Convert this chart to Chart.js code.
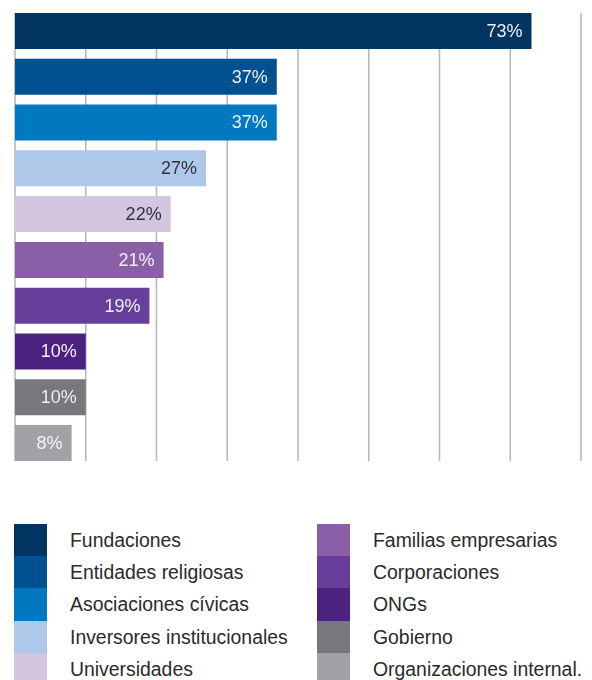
<!DOCTYPE html>
<html>
<head>
<meta charset="utf-8">
<script src="https://cdn.jsdelivr.net/npm/chart.js@4"></script>
<style>
    body { margin: 0; background: #fff; font-family: "Liberation Sans", Arial, sans-serif; }
    #wrap { position: relative; width: 592px; height: 680px; overflow: hidden; }
    #chartBox { position: absolute; left: 0; top: 0; width: 592px; height: 480px; }
    .legend { position: absolute; top: 524px; }
    .legend .row { position: relative; height: 32.2px; }
    .legend .sw { position: absolute; left: 0; top: 0; width: 33px; height: 32.2px; }
    .legend .txt { position: absolute; left: 56px; top: 5px; font-size: 19.4px; color: #2a2a2a; white-space: nowrap; line-height: 22px; }
</style>
</head>
<body>
<div id="wrap">
    <div id="chartBox"><canvas id="chart"></canvas></div>
    <div class="legend" id="legendLeft" style="left:14px"></div>
    <div class="legend" id="legendRight" style="left:317px"></div>
</div>
<script>
const categories = [
    'Fundaciones',
    'Entidades religiosas',
    'Asociaciones cívicas',
    'Inversores institucionales',
    'Universidades',
    'Familias empresarias',
    'Corporaciones',
    'ONGs',
    'Gobierno',
    'Organizaciones internal.'
];
const percentages = [73, 37, 37, 27, 22, 21, 19, 10, 10, 8];
const barColors = [
    '#023462', '#01508f', '#0079c1', '#adc8e8', '#d2c6e1',
    '#8a5fa7', '#663f9b', '#4b2280', '#77787b', '#a1a2a5'
];
const labelColors = [
    '#eef2f7', '#eef2f7', '#eef2f7', '#333333', '#333333',
    '#f4f0f7', '#f4f0f7', '#f4f0f7', '#eeeeee', '#f4f4f4'
];
const gridValues = [0, 10, 20, 30, 40, 50, 60, 70, 80];

// vertical guide lines, spanning from the first bar's top to the last bar's bottom
const gridLines = {
    id: 'gridLines',
    beforeDatasetsDraw(chart) {
        const meta = chart.getDatasetMeta(0);
        const first = meta.data[0];
        const last = meta.data[meta.data.length - 1];
        const top = first.y - first.height / 2;
        const bottom = last.y + last.height / 2;
        const x = chart.scales.x;
        const ctx = chart.ctx;
        ctx.save();
        ctx.strokeStyle = '#b8b8b8';
        ctx.lineWidth = 1.6;
        gridValues.forEach(v => {
            const px = x.getPixelForValue(v);
            ctx.beginPath();
            ctx.moveTo(px, top);
            ctx.lineTo(px, bottom);
            ctx.stroke();
        });
        ctx.restore();
    }
};

// percentage text, right aligned inside each bar
const barLabels = {
    id: 'barLabels',
    afterDatasetsDraw(chart) {
        const meta = chart.getDatasetMeta(0);
        const ctx = chart.ctx;
        ctx.save();
        ctx.font = '18px "Liberation Sans", Arial, sans-serif';
        ctx.textAlign = 'right';
        ctx.textBaseline = 'middle';
        meta.data.forEach((bar, i) => {
            ctx.fillStyle = labelColors[i];
            ctx.fillText(percentages[i] + '%', bar.x - 9, bar.y + 1);
        });
        ctx.restore();
    }
};

function loadChart() {
    const ctx = document.getElementById('chart');
    new Chart(ctx, {
        type: 'bar',
        data: {
            labels: categories,
            datasets: [{
                data: percentages,
                backgroundColor: barColors,
                borderWidth: 0,
                categoryPercentage: 0.786,
                barPercentage: 1
            }]
        },
        options: {
            indexAxis: 'y',
            responsive: true,
            maintainAspectRatio: false,
            animation: false,
            layout: { padding: { left: 15, right: 11, top: 8, bottom: 14 } },
            scales: {
                x: { display: false, min: 0, max: 80 },
                y: { display: false }
            },
            plugins: {
                legend: { display: false },
                tooltip: { enabled: false }
            }
        },
        plugins: [gridLines, barLabels]
    });
}

function buildLegend() {
    const left = document.getElementById('legendLeft');
    const right = document.getElementById('legendRight');
    categories.forEach((name, i) => {
        const row = document.createElement('div');
        row.className = 'row';
        row.innerHTML = `<div class="sw" style="background:${barColors[i]}"></div><div class="txt">${name}</div>`;
        (i < 5 ? left : right).appendChild(row);
    });
}

loadChart();
buildLegend();
</script>
</body>
</html>
